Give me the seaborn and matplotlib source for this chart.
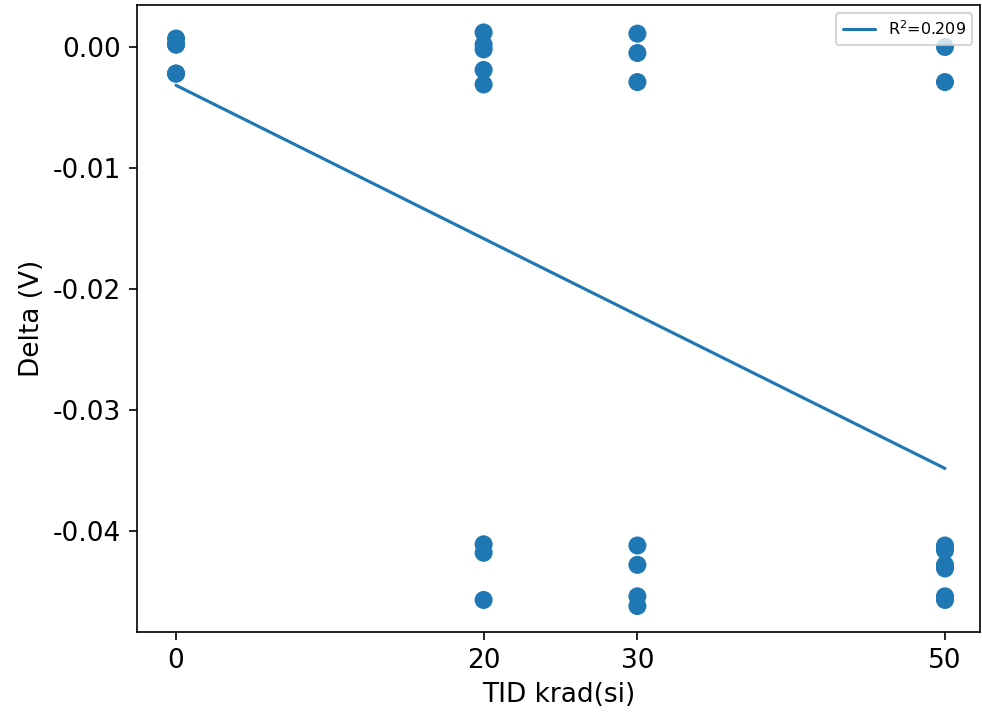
import numpy as np
import pandas as pd
import matplotlib
matplotlib.use("Agg")
import matplotlib.pyplot as plt
import seaborn as sns

# Data
tid_0 = [0, 0, 0, 0, 0]
delta_0 = [0.0007, 0.0002, 0.0002, -0.0022, -0.0022]
tid_20 = [20] * 8
delta_20 = [0.0012, 0.0002, -0.0002, -0.0019, -0.0031, -0.0411, -0.0418, -0.0457]
tid_30 = [30] * 7
delta_30 = [0.0011, -0.0005, -0.0029, -0.0412, -0.0428, -0.0454, -0.0462]
tid_50 = [50] * 8
delta_50 = [0.0000, -0.0029, -0.0412, -0.0416, -0.0428, -0.0431, -0.0454, -0.0457]
x_ticks = [0, 20, 30, 50]
y_ticks = [0.00, -0.01, -0.02, -0.03, -0.04]
y_tick_labels = ["0.00", "-0.01", "-0.02", "-0.03", "-0.04"]
r2_label = "R$^2$=0.209"

df = pd.DataFrame({
    "TID": tid_0 + tid_20 + tid_30 + tid_50,
    "Delta": delta_0 + delta_20 + delta_30 + delta_50,
})
slope, intercept = np.polyfit(df["TID"], df["Delta"], 1)
fit = pd.DataFrame({"TID": [min(x_ticks), max(x_ticks)]})
fit["Delta"] = intercept + slope * fit["TID"]

sns.set_style("white", rc={"text.color": "black", "axes.labelcolor": "black",
                           "xtick.color": "black", "ytick.color": "black",
                           "axes.edgecolor": "black"})
plt.rcParams["font.family"] = ["DejaVu Sans"]
plt.rcParams["axes.unicode_minus"] = False

fig = plt.figure(figsize=(982 / 150, 721 / 150), dpi=150)
ax = fig.add_axes([0.1395, 0.1234, 0.8585, 0.8697])
color = "#1f77b4"
sns.scatterplot(data=df, x="TID", y="Delta", ax=ax, color=color, s=75,
                edgecolor="none", linewidth=0, zorder=2)
sns.lineplot(data=fit, x="TID", y="Delta", ax=ax, color=color, linewidth=1.5,
             label=r2_label, zorder=3)

ax.set_xlim(-2.54, 52.28)
ax.set_ylim(-0.04835, 0.00347)
ax.set_xticks(x_ticks)
ax.set_xticklabels([str(v) for v in x_ticks], fontsize=12.7)
ax.set_yticks(y_ticks)
ax.set_yticklabels(y_tick_labels, fontsize=12.7)
ax.tick_params(axis="both", which="major", direction="out", length=4,
               width=0.8, color="black", labelcolor="black", bottom=True, left=True)
for sp in ax.spines.values():
    sp.set_color("black")
    sp.set_linewidth(0.8)
ax.set_xlabel("TID krad(si)", fontsize=12.7, color="black")
ax.set_ylabel("Delta (V)", fontsize=12.7, color="black")
ax.legend(loc="upper right", fontsize=7.7, frameon=True, fancybox=True,
          framealpha=0.8, edgecolor="#cccccc")

fig.savefig("out.png", dpi=150)
